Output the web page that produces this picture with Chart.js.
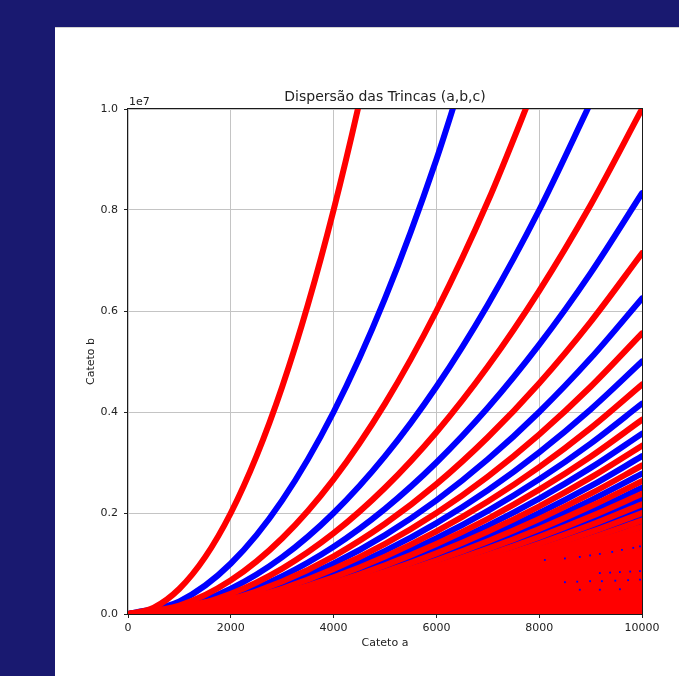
<!DOCTYPE html>
<html>
<head>
<meta charset="utf-8">
<script src="https://cdn.jsdelivr.net/npm/chart.js@4/dist/chart.umd.min.js"></script>
<style>
  html, body { margin: 0; padding: 0; background: #191970; }
  #folha { position: absolute; left: 55px; top: 27px; width: 624px; height: 649px;
           background: #fff; border-top: 1px solid #d2d2d2; }
  #grafico { position: absolute; left: 0; top: 0; }
</style>
</head>
<body>
<div id="folha"><canvas id="grafico" width="624" height="648"></canvas></div>
<script>
/* Dispersão das trincas pitagóricas (a,b,c) – cateto b em milhões (×1e6) */

// eixo a para a curva c-b = 1
var CATETO_A_K1 = [0, 500, 1000, 1500, 2000, 2500, 3000, 3500, 4000, 4500, 5000];
var CATETO_B_K1 = [0, 0.125, 0.5, 1.125, 2, 3.125, 4.5, 6.125, 8, 10.125, 12.5];

// eixo a para as demais curvas
var CATETO_A = [0, 1000, 2000, 3000, 4000, 5000, 6000, 7000, 8000, 9000, 10000];

// cateto b de cada curva (c-b = 2, 3, 4, ...), em milhões
var CURVAS_B = [
  [0, 0.25, 1, 2.25, 4, 6.25, 9, 12.25],
  [0, 0.167, 0.667, 1.5, 2.667, 4.167, 6, 8.167, 10.667],
  [0, 0.125, 0.5, 1.125, 2, 3.125, 4.5, 6.125, 8, 10.125],
  [0, 0.1, 0.4, 0.9, 1.6, 2.5, 3.6, 4.9, 6.4, 8.1, 10],
  [0, 0.083, 0.333, 0.75, 1.333, 2.083, 3, 4.083, 5.333, 6.75, 8.333],
  [0, 0.071, 0.286, 0.643, 1.143, 1.786, 2.571, 3.5, 4.571, 5.786, 7.143],
  [0, 0.063, 0.25, 0.563, 1, 1.563, 2.25, 3.063, 4, 5.063, 6.25],
  [0, 0.056, 0.222, 0.5, 0.889, 1.389, 2, 2.722, 3.556, 4.5, 5.556],
  [0, 0.05, 0.2, 0.45, 0.8, 1.25, 1.8, 2.45, 3.2, 4.05, 5],
  [0, 0.045, 0.182, 0.409, 0.727, 1.136, 1.636, 2.227, 2.909, 3.682, 4.545],
  [0, 0.042, 0.167, 0.375, 0.667, 1.042, 1.5, 2.042, 2.667, 3.375, 4.167],
  [0, 0.038, 0.154, 0.346, 0.615, 0.962, 1.385, 1.885, 2.462, 3.115, 3.846],
  [0, 0.036, 0.143, 0.321, 0.571, 0.893, 1.286, 1.75, 2.286, 2.893, 3.571],
  [0, 0.033, 0.133, 0.3, 0.533, 0.833, 1.2, 1.633, 2.133, 2.7, 3.333],
  [0, 0.031, 0.125, 0.281, 0.5, 0.781, 1.125, 1.531, 2, 2.531, 3.125],
  [0, 0.029, 0.118, 0.265, 0.471, 0.735, 1.059, 1.441, 1.882, 2.382, 2.941],
  [0, 0.028, 0.111, 0.25, 0.444, 0.694, 1, 1.361, 1.778, 2.25, 2.778],
  [0, 0.026, 0.105, 0.237, 0.421, 0.658, 0.947, 1.289, 1.684, 2.132, 2.632],
  [0, 0.025, 0.1, 0.225, 0.4, 0.625, 0.9, 1.225, 1.6, 2.025, 2.5],
  [0, 0.024, 0.095, 0.214, 0.381, 0.595, 0.857, 1.167, 1.524, 1.929, 2.381],
  [0, 0.023, 0.091, 0.205, 0.364, 0.568, 0.818, 1.114, 1.455, 1.841, 2.273],
  [0, 0.022, 0.087, 0.196, 0.348, 0.543, 0.783, 1.065, 1.391, 1.761, 2.174],
  [0, 0.021, 0.083, 0.188, 0.333, 0.521, 0.75, 1.021, 1.333, 1.688, 2.083],
  [0, 0.02, 0.08, 0.18, 0.32, 0.5, 0.72, 0.98, 1.28, 1.62, 2],
  [0, 0.019, 0.077, 0.173, 0.308, 0.481, 0.692, 0.942, 1.231, 1.558, 1.923],
  [0, 0.019, 0.074, 0.167, 0.296, 0.463, 0.667, 0.907, 1.185, 1.5, 1.852],
  [0, 0.018, 0.071, 0.161, 0.286, 0.446, 0.643, 0.875, 1.143, 1.446, 1.786],
  [0, 0.017, 0.069, 0.155, 0.276, 0.431, 0.621, 0.845, 1.103, 1.397, 1.724],
  [0, 0.017, 0.067, 0.15, 0.267, 0.417, 0.6, 0.817, 1.067, 1.35, 1.667],
  [0, 0.016, 0.065, 0.145, 0.258, 0.403, 0.581, 0.79, 1.032, 1.306, 1.613],
  [0, 0.016, 0.063, 0.141, 0.25, 0.391, 0.563, 0.766, 1, 1.266, 1.563]
];

// contorno superior da massa vermelha (pontos muito densos perto do eixo a)
var MASSA_A = [0, 300, 600, 1000, 1500, 2000, 3000, 4000, 5000, 6000, 7000, 8000, 9000, 10000];
var MASSA_B = [0, 0.05, 0.12, 0.19, 0.29, 0.37, 0.5, 0.62, 0.78, 0.95, 1.1, 1.24, 1.37, 1.56];

// trincas azuis soltas que aparecem dentro da massa vermelha (canto inferior direito)
var AZUIS_A = [8110, 8500, 8790, 8990, 9180, 9420, 9610, 9830, 9960,
               9180, 9380, 9570, 9770, 9960,
               8500, 8740, 8990, 9220, 9480, 9730, 9960,
               8790, 9180, 9570];
var AZUIS_B = [1.07, 1.1, 1.13, 1.16, 1.19, 1.23, 1.27, 1.31, 1.34,
               0.81, 0.82, 0.83, 0.84, 0.85,
               0.63, 0.64, 0.65, 0.65, 0.66, 0.67, 0.68,
               0.48, 0.48, 0.49];

var TICKS_X = [0, 2000, 4000, 6000, 8000, 10000];
var TICKS_Y = [0, 2, 4, 6, 8, 10];

var VERMELHO = '#ff0000', AZUL = '#0000ff';

function pares(xs, ys) {
  return ys.map(function (y, i) { return { x: xs[i], y: y }; });
}

// vermelhas (c-b ímpar) por cima das azuis
function curva(k, xs, ys) {
  var impar = k % 2 === 1;
  return {
    label: 'c-b=' + k,
    data: pares(xs, ys),
    borderColor: impar ? VERMELHO : AZUL,
    borderWidth: 6,
    borderCapStyle: 'round',
    borderJoinStyle: 'round',
    pointRadius: 0,
    fill: false,
    cubicInterpolationMode: 'monotone',
    order: impar ? 1 : 2
  };
}

var datasets = [{
  label: 'azuis',
  data: pares(AZUIS_A, AZUIS_B),
  showLine: false,
  pointStyle: 'rect',
  pointRadius: 1.3,
  borderWidth: 0,
  backgroundColor: AZUL,
  order: -1
}, {
  label: 'massa',
  data: pares(MASSA_A, MASSA_B),
  borderWidth: 0,
  pointRadius: 0,
  backgroundColor: VERMELHO,
  fill: 'origin',
  order: 0
}];
datasets.push(curva(1, CATETO_A_K1, CATETO_B_K1));
CURVAS_B.forEach(function (ys, i) { datasets.push(curva(i + 2, CATETO_A, ys)); });

// título, rótulo 1e7 e moldura completa (como no matplotlib)
var moldura = {
  id: 'moldura',
  afterDatasetsDraw: function (chart) {
    var a = chart.chartArea, ctx = chart.ctx;
    ctx.save();
    ctx.strokeStyle = '#1a1a1a';
    ctx.lineWidth = 1;
    ctx.strokeRect(Math.round(a.left) - 0.5, Math.round(a.top) - 0.5,
      Math.round(a.right - a.left) + 1, Math.round(a.bottom - a.top) + 1);
    ctx.fillStyle = '#222';
    ctx.font = '14px "DejaVu Sans"';
    ctx.textAlign = 'center';
    ctx.textBaseline = 'alphabetic';
    ctx.fillText('Dispersão das Trincas (a,b,c)', (a.left + a.right) / 2, a.top - 8);
    ctx.font = '11px "DejaVu Sans"';
    ctx.textAlign = 'left';
    ctx.fillText('1e7', a.left + 1, a.top - 4);
    ctx.restore();
  }
};

var fonteTick = { family: 'DejaVu Sans', size: 11 };

new Chart(document.getElementById('grafico').getContext('2d'), {
  type: 'line',
  data: { datasets: datasets },
  options: {
    responsive: false,
    animation: false,
    layout: { padding: { left: 0, top: 81, right: 37, bottom: 0 } },
    plugins: { legend: { display: false }, tooltip: { enabled: false } },
    scales: {
      x: {
        type: 'linear', min: 0, max: 10000,
        afterBuildTicks: function (s) { s.ticks = TICKS_X.map(function (v) { return { value: v }; }); },
        afterFit: function (s) { s.height = 62; },
        ticks: { color: '#222', font: fonteTick, padding: 4, maxRotation: 0,
          callback: function (v) { return String(v); } },
        grid: { color: '#c4c4c4', tickColor: '#222', tickLength: 4 },
        border: { display: false },
        title: { display: true, text: 'Cateto a', color: '#222', font: fonteTick, padding: { top: 0, bottom: 26 } }
      },
      y: {
        type: 'linear', min: 0, max: 10,
        afterBuildTicks: function (s) { s.ticks = TICKS_Y.map(function (v) { return { value: v }; }); },
        afterFit: function (s) { s.width = 73; },
        ticks: {
          color: '#222', font: fonteTick, padding: 6,
          callback: function (v) { return (v / 10).toFixed(1); }
        },
        grid: { color: '#c4c4c4', tickColor: '#222', tickLength: 4 },
        border: { display: false },
        title: { display: true, text: 'Cateto b', color: '#222', font: fonteTick, padding: { top: 30, bottom: 0 } }
      }
    }
  },
  plugins: [moldura]
});
</script>
</body>
</html>
